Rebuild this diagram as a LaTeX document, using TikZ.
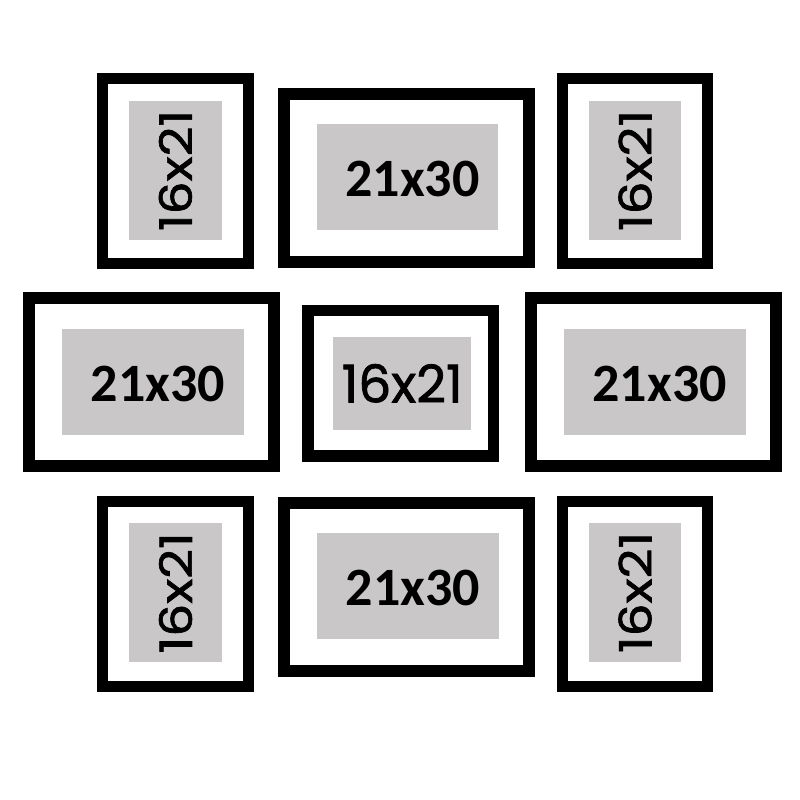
\documentclass[tikz,border=0pt]{standalone}
\usepackage{fontspec}
\usetikzlibrary{calc}
\newfontfamily\carlito{Carlito}
\newfontfamily\poppins{Poppins}[FakeBold=1.4]
\definecolor{matgray}{RGB}{201,199,200}

\tikzset{
  frame/.style={draw=black, line width=11pt, inner sep=0pt},
  wideframe/.style={frame, line width=12pt},
  mat/.style={fill=matgray, inner sep=0pt},
  smalllabel/.style={inner sep=0pt, font=\poppins\fontsize{52}{52}\selectfont},
  biglabel/.style={inner sep=0pt, font=\carlito\bfseries\fontsize{54}{54}\selectfont}
}

\begin{document}
\begin{tikzpicture}[x=1pt, y=-1pt]
  \useasboundingbox (0,0) rectangle (800,800);

  % upright frames, 16x21
  \foreach \nm/\cx/\cy/\mx/\my in {A/175.7/171.2/175.4/170.5, C/635/171.2/635/170.5,
                                    G/175.7/593.8/175.5/592.8, I/635/594/635/592.5}{
    \node[frame, minimum width=145.7pt, minimum height=185pt] (f\nm) at (\cx,\cy) {};
    \node[mat, minimum width=92.5pt, minimum height=139pt] (m\nm) at (\mx,\my) {};
    \node[smalllabel, rotate=90, yscale=0.86] (t\nm) at (m\nm) {16x21};
  }

  % wide frames, 21x30
  \foreach \nm/\cx/\cy/\mx/\my in {B/406.7/178.3/407.5/177.2, D/151.7/382/152.8/381.7,
                                    F/653.3/382.3/654.7/381.7, H/406.3/587/407.8/585.9}{
    \node[wideframe, minimum width=244.7pt, minimum height=168pt] (f\nm) at (\cx,\cy) {};
    \node[mat, minimum width=181.6pt, minimum height=106pt] (m\nm) at (\mx,\my) {};
    \node[biglabel] (t\nm) at ($(m\nm)+(5,2)$) {21x30};
  }

  % centre frame, 16x21 lying
  \node[frame, line width=11.5pt, minimum width=185.2pt, minimum height=145.2pt] (fE) at (400.7,383.3) {};
  \node[mat, minimum width=137.7pt, minimum height=93.3pt] (mE) at (402.2,383.3) {};
  \node[smalllabel] (tE) at (mE) {16x21};
\end{tikzpicture}
\end{document}
